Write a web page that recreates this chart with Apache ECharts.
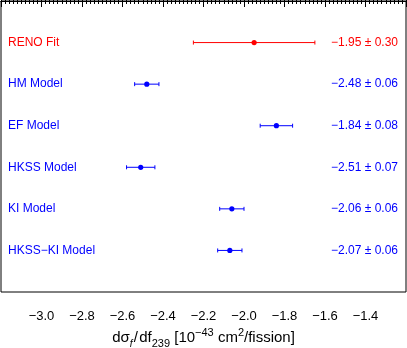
<!DOCTYPE html>
<html>
<head>
<meta charset="utf-8">
<script src="https://cdn.jsdelivr.net/npm/echarts@6/dist/echarts.min.js"></script>
<style>
  html, body { margin: 0; padding: 0; background: #fff; }
  #chart { width: 407px; height: 348px; }
</style>
</head>
<body>
<div id="chart"></div>
<script>
// fit results, top row first
const names = ['RENO Fit', 'HM Model', 'EF Model', 'HKSS Model', 'KI Model', 'HKSS\u2212KI Model']
const slopes = [-1.95, -2.48, -1.84, -2.51, -2.06, -2.07]
const errors = [0.30, 0.06, 0.08, 0.07, 0.06, 0.06]
const colors = ['#ff0000', '#0000ff', '#0000ff', '#0000ff', '#0000ff', '#0000ff']

const xMin = -3.2
const xMax = -1.2
const font = 'Liberation Sans, Arial, Helvetica, sans-serif'

const fmt = v => (v < 0 ? '\u2212' : '') + Math.abs(v).toFixed(2)

const data = names.map((n, i) => [slopes[i], i + 1, errors[i], i])

const xCommon = {
  type: 'value',
  min: xMin,
  max: xMax,
  interval: 0.2,
  axisLine: { show: true, lineStyle: { color: '#000', width: 1 } },
  axisTick: { show: true, inside: true, length: 6, lineStyle: { color: '#000' } },
  minorTick: { show: true, splitNumber: 10, length: 3, lineStyle: { color: '#000' } },
  splitLine: { show: false }
}

const option = {
  animation: false,
  grid: {
    left: 1, right: 1, top: 1, bottom: 56,
    outerBoundsMode: 'none',
    containLabel: false,
    show: true, borderColor: '#000', borderWidth: 1
  },
  xAxis: [
    Object.assign({}, xCommon, {
      position: 'bottom',
      axisLabel: {
        show: true,
        fontFamily: font,
        fontSize: 13,
        color: '#000',
        margin: 18,
        showMinLabel: false,
        showMaxLabel: false,
        formatter: v => (v < 0 ? '\u2212' : '') + Math.abs(v).toFixed(1)
      },
      name: 'd\u03c3{sub|f}\u200a/\u200adf{sub2|239} [10{sup|\u221243} cm{sup|2}/fission]',
      nameLocation: 'middle',
      nameGap: 46,
      nameMoveOverlap: false,
      nameTextStyle: {
        fontFamily: font,
        fontSize: 15,
        color: '#000',
        lineHeight: 22,
        verticalAlign: 'middle',
        rich: {
          sub: { fontSize: 10, fontStyle: 'italic', fontFamily: font, color: '#000', verticalAlign: 'bottom', lineHeight: 16 },
          sub2: { fontSize: 11, fontFamily: font, color: '#000', verticalAlign: 'bottom', lineHeight: 16 },
          sup: { fontSize: 11, fontFamily: font, color: '#000', verticalAlign: 'top', lineHeight: 16 }
        }
      }
    }),
    Object.assign({}, xCommon, {
      position: 'top',
      axisLabel: { show: false }
    })
  ],
  yAxis: {
    type: 'value',
    min: 0,
    max: 7,
    inverse: true,
    show: false
  },
  series: [{
    type: 'custom',
    xAxisIndex: 0,
    encode: { x: 0, y: 1 },
    data: data,
    renderItem(params, api) {
      const v = api.value(0)
      const row = api.value(1)
      const e = api.value(2)
      const i = api.value(3)
      const color = colors[i]
      const lo = api.coord([v - e, row])
      const hi = api.coord([v + e, row])
      const c = api.coord([v, row])
      const left = api.coord([xMin, row])
      const right = api.coord([xMax, row])
      const ls = { stroke: color, lineWidth: 1 }
      return {
        type: 'group',
        children: [
          { type: 'line', shape: { x1: lo[0], y1: lo[1], x2: hi[0], y2: hi[1] }, style: ls },
          { type: 'line', shape: { x1: lo[0], y1: lo[1] - 2, x2: lo[0], y2: lo[1] + 2 }, style: ls },
          { type: 'line', shape: { x1: hi[0], y1: hi[1] - 2, x2: hi[0], y2: hi[1] + 2 }, style: ls },
          { type: 'circle', shape: { cx: c[0], cy: c[1], r: 2.6 }, style: { fill: color } },
          {
            type: 'text',
            x: left[0] + 7,
            y: left[1],
            style: {
              text: names[i], fill: color, font: '12px ' + font,
              textAlign: 'left', textVerticalAlign: 'middle'
            }
          },
          {
            type: 'text',
            x: right[0] - 8,
            y: right[1],
            style: {
              text: fmt(v) + ' \u00b1 ' + e.toFixed(2), fill: color, font: '12px ' + font,
              textAlign: 'right', textVerticalAlign: 'middle'
            }
          }
        ]
      }
    }
  }]
}

const mycharts = echarts.init(document.getElementById('chart'))
mycharts.setOption(option)
</script>
</body>
</html>
